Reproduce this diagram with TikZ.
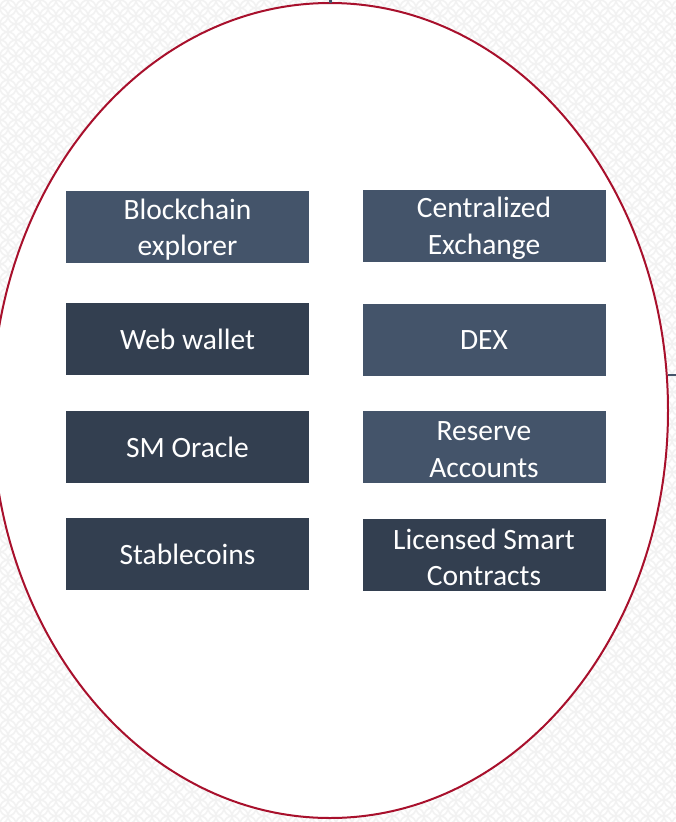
\documentclass[tikz,border=0pt]{standalone}
\usepackage{fontspec}
\setmainfont{Carlito}
\definecolor{boxlight}{HTML}{44546A}
\definecolor{boxdark}{HTML}{333F50}
\definecolor{ringred}{RGB}{168,16,44}
\definecolor{patgray}{HTML}{F2F2F2}
\tikzset{
  tile/.style={minimum width=243pt, minimum height=72pt, inner sep=0pt, text=white,
    align=center, font=\fontsize{29.5}{36.5}\selectfont},
  tilelight/.style={tile, fill=boxlight},
  tiledark/.style={tile, fill=boxdark},
  twoline/.style={yshift=-2.5pt},
  ring/.style={draw=ringred, line width=2pt},
  stub/.style={draw=boxlight, line width=2pt},
  scallop/.style={draw=patgray, line width=1.6pt}
}
\begin{document}
\begin{tikzpicture}[x=1pt,y=-1pt]
\useasboundingbox (0,0) rectangle (676,822);
\fill[white] (0,0) rectangle (676,822);
\begin{scope}
\clip (0,0) rectangle (676,822);
\foreach \i in {0,...,43}{
  \foreach \j in {0,...,52}{
    \draw[scallop] ({16*\i},{16*\j}) circle (8);
    \draw[scallop] ({16*\i+8},{16*\j+8}) circle (8);
  }
}
\fill[white] (330,410.5) ellipse [x radius=338, y radius=407.5];
\draw[ring] (330,410.5) ellipse [x radius=338, y radius=407.5];
\end{scope}
\coordinate (tA) at (330,0);
\coordinate (tB) at (330,3);
\draw[stub, line width=3pt] (tA) -- (tB);
\coordinate (sA) at (668,375);
\coordinate (sB) at (676,375);
\draw[stub] (sA) -- (sB);
\node[tilelight] (be) at (187.5,227) {};
\node[tile, twoline] (beT) at (be.center) {Blockchain\\explorer};
\node[tilelight] (ce) at (484,226) {};
\node[tile, twoline] (ceT) at (ce.center) {Centralized\\Exchange};
\node[tiledark] (ww) at (187.5,339) {Web wallet};
\node[tilelight] (dex) at (484,340) {DEX};
\node[tiledark] (smo) at (187.5,447) {SM Oracle};
\node[tilelight] (ra) at (484,447) {};
\node[tile, twoline] (raT) at (ra.center) {Reserve\\Accounts};
\node[tiledark] (sc) at (187.5,554) {Stablecoins};
\node[tiledark] (lsc) at (484,555) {};
\node[tile, twoline] (lscT) at (lsc.center) {Licensed Smart\\Contracts};
\end{tikzpicture}
\end{document}
